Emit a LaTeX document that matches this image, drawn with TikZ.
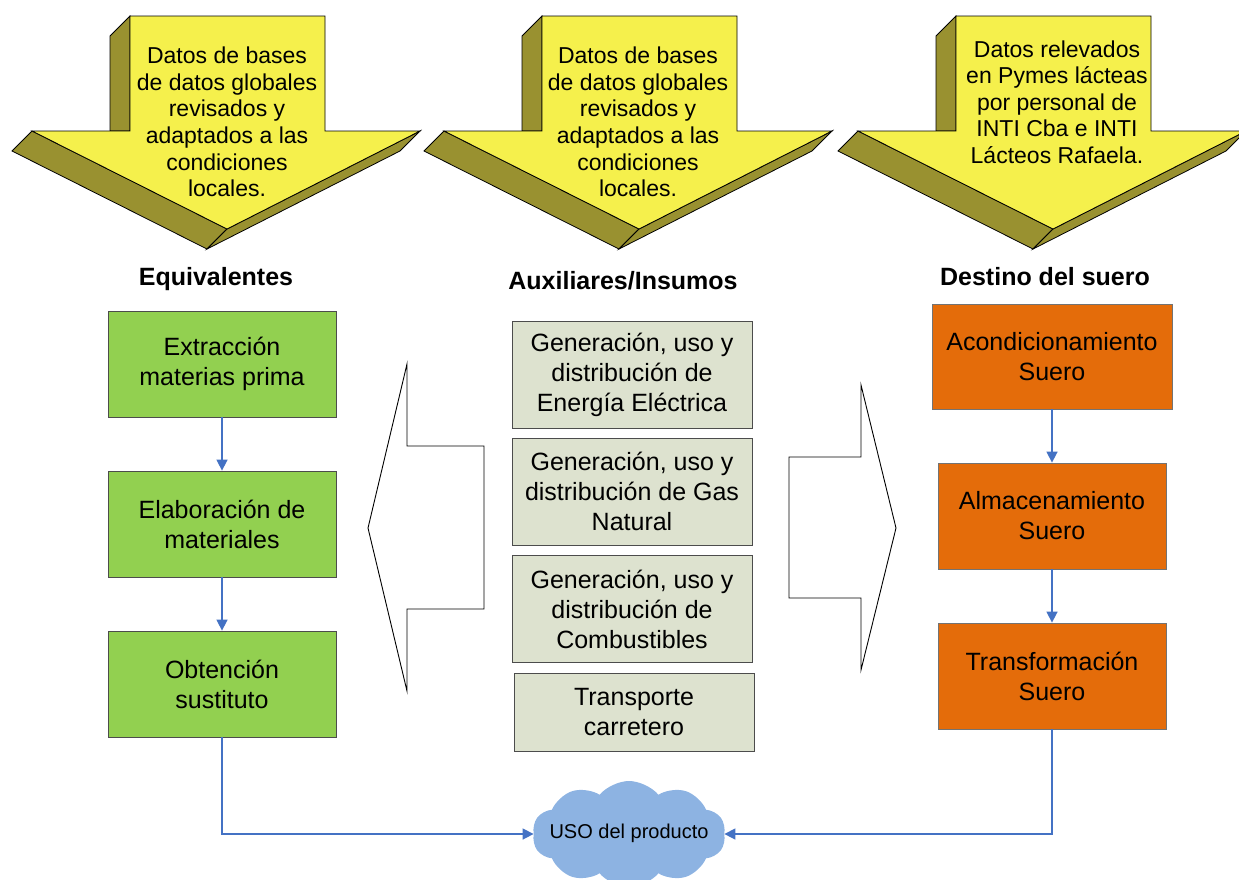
\documentclass[tikz,border=0pt]{standalone}
\usepackage{fontspec}
\setmainfont{Liberation Sans}
\usetikzlibrary{shapes.symbols,arrows.meta}
\definecolor{ayellow}{RGB}{245,240,76}
\definecolor{aolive}{RGB}{153,145,48}
\definecolor{bgreen}{RGB}{146,208,80}
\definecolor{bgray}{RGB}{221,226,207}
\definecolor{borange}{RGB}{228,108,10}
\definecolor{cblue}{RGB}{141,179,226}
\definecolor{lblue}{RGB}{68,114,196}
\tikzset{
  bigarrow/.pic={
    \filldraw[fill=aolive,draw=black,line width=0.8pt,line join=miter]
      (-97,16) -- (-117,36) -- (-117,131) -- (-97,131) -- cycle;
    \filldraw[fill=aolive,draw=black,line width=0.8pt]
      (-195,131) -- (-215,151) -- (-20,249) -- (0,229) -- cycle;
    \filldraw[fill=aolive,draw=black,line width=0.8pt]
      (0,229) -- (-20,249) -- (173,151) -- (193,131) -- cycle;
    \filldraw[fill=ayellow,draw=black,line width=0.8pt]
      (-97,16) -- (98,16) -- (98,131) -- (193,131) -- (0,229) -- (-195,131) -- (-97,131) -- cycle;
  },
  atext/.style={align=center,inner sep=0pt,font=\fontsize{23}{26.6}\selectfont},
  box/.style={draw=black!70,line width=0.8pt,align=center,inner sep=1pt,
    font=\fontsize{25}{30}\selectfont},
  gbox/.style={box,fill=bgreen,minimum width=228pt,minimum height=106pt},
  mbox/.style={box,fill=bgray,minimum width=240pt,minimum height=107pt},
  obox/.style={box,fill=borange,draw=black!55,minimum width=228pt,minimum height=106pt},
  head/.style={font=\fontsize{25}{30}\selectfont\bfseries,inner sep=0pt},
  conn/.style={draw=lblue,line width=1.5pt,-{Triangle[length=11pt,width=11pt]}},
  hollow/.style={draw=black,line width=0.9pt,fill=white,line join=miter},
}
\begin{document}
\begin{tikzpicture}[x=1pt,y=-1pt]
\useasboundingbox (0,0) rectangle (1239,879);
\clip (0,0) rectangle (1239,879);

% top 3D arrows
\pic at (227,0) {bigarrow};
\pic at (639,0) {bigarrow};
\pic at (1053,0) {bigarrow};
\node[atext] (t1) at (227,122) {Datos de bases\\de datos globales\\revisados y\\adaptados a las\\condiciones\\locales.};
\node[atext] (t2) at (638,122) {Datos de bases\\de datos globales\\revisados y\\adaptados a las\\condiciones\\locales.};
\node[atext] (t3) at (1057,102) {Datos relevados\\en Pymes lácteas\\por personal de\\INTI Cba e INTI\\Lácteos Rafaela.};

% headers
\node[head] (h1) at (216,279) {Equivalentes};
\node[head] (h2) at (623,281) {Auxiliares/Insumos};
\node[head] (h3) at (1045,277) {Destino del suero};

% left column
\node[gbox] (g1) at (222,364) {Extracción\\materias prima};
\node[gbox] (g2) at (222,524) {Elaboración de\\materiales};
\node[gbox] (g3) at (222,684) {Obtención\\sustituto};

% middle column
\node[mbox] (m1) at (632,374.5) {Generación, uso y\\distribución de\\Energía Eléctrica};
\node[mbox] (m2) at (632,491.5) {Generación, uso y\\distribución de Gas\\Natural};
\node[mbox] (m3) at (632,609) {Generación, uso y\\distribución de\\Combustibles};
\node[mbox,minimum height=78pt] (m4) at (634,712) {Transporte\\carretero};

% right column
\node[obox,minimum width=240pt,minimum height=105pt] (o1) at (1052,356.5) {Acondicionamiento\\Suero};
\node[obox] (o2) at (1052,516) {Almacenamiento\\Suero};
\node[obox] (o3) at (1052,676) {Transformación\\Suero};

% hollow side arrows
\draw[hollow] (484,446) -- (407,446) -- (407,364) -- (368,528) -- (407,691) -- (407,609) -- (484,609) -- cycle;
\draw[hollow] (789,457) -- (861,457) -- (861,385) -- (896,528) -- (861,670) -- (861,598) -- (789,598) -- cycle;

% cloud
\node[cloud,cloud puffs=10,cloud puff arc=100,aspect=1.8,fill=cblue,draw=none,
  minimum width=193pt,minimum height=106pt,inner sep=0pt] (c) at (629,834) {};
\node[font=\fontsize{20}{24}\selectfont,inner sep=0pt] (ct) at (629,833) {USO del producto};

% connectors
\draw[conn] (g1.south) -- (g2.north);
\draw[conn] (g2.south) -- (g3.north);
\draw[conn] (o1.south) -- (o2.north);
\draw[conn] (o2.south) -- (o3.north);
\draw[conn] (g3.south) |- (c.west);
\draw[conn] (o3.south) |- (c.east);
\end{tikzpicture}
\end{document}
